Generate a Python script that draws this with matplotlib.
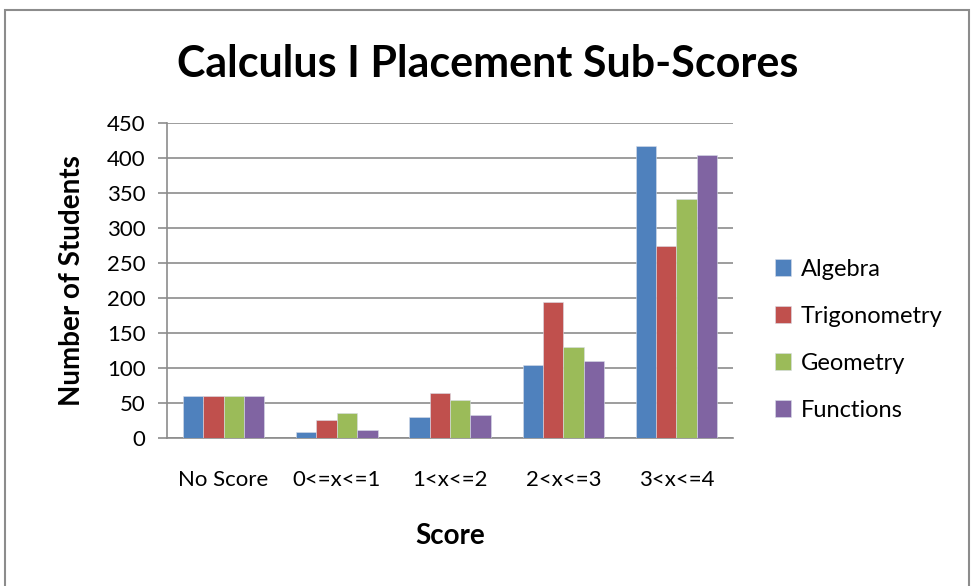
import numpy as np
import matplotlib.pyplot as plt
from matplotlib.patches import Rectangle

# data
categories = ['No Score', '0<=x<=1', '1<x<=2', '2<x<=3', '3<x<=4']
algebra = [60, 8, 30, 104, 417]
trigonometry = [60, 26, 65, 194, 274]
geometry = [60, 36, 54, 130, 342]
functions = [60, 11, 33, 110, 405]
series_names = ['Algebra', 'Trigonometry', 'Geometry', 'Functions']
colors = ['#4F81BD', '#C0504D', '#9BBB59', '#8064A2']

plt.rcParams['font.family'] = ['Lato', 'DejaVu Sans']

fig = plt.figure(figsize=(9.71, 5.86), dpi=100)
ax = fig.add_axes([0.172, 0.2526, 0.583, 0.537])

x = np.arange(len(categories))
w = 0.18
all_series = [algebra, trigonometry, geometry, functions]
for i, vals in enumerate(all_series):
    ax.bar(x + (i - 1.5) * w, vals, w, color=colors[i], label=series_names[i],
           edgecolor='#d8dde8', linewidth=0.4, zorder=3)

ax.set_xlim(-0.5, len(categories) - 0.5)
ax.set_ylim(0, 450)
ax.set_yticks(np.arange(0, 451, 50))
ax.set_xticks(x)
ax.set_xticklabels(categories)
ax.yaxis.grid(True, color='#8c8c8c', linewidth=1.2, zorder=0)
ax.set_axisbelow(True)

for s in ['top', 'right']:
    ax.spines[s].set_visible(False)
ax.spines['left'].set_color('#8c8c8c')
ax.spines['bottom'].set_color('#8c8c8c')
ax.spines['left'].set_linewidth(1.2)
ax.spines['bottom'].set_linewidth(1.2)

ax.tick_params(axis='y', length=6.5, width=1.2, color='#8c8c8c', labelsize=16, pad=9)
ax.tick_params(axis='x', length=0, labelsize=16, pad=23)

ax.set_ylabel('Number of Students', fontsize=20, fontweight='bold', labelpad=16)
ax.set_xlabel('Score', fontsize=20, fontweight='bold', labelpad=24)
fig.suptitle('Calculus I Placement Sub-Scores', fontsize=31, fontweight='bold',
             x=0.502, y=0.925)

ax.legend(loc='center left', bbox_to_anchor=(0.776, 0.42), bbox_transform=fig.transFigure,
          frameon=False, fontsize=17, labelspacing=1.1, handlelength=0.7,
          handleheight=0.7, handletextpad=0.4)

# outer chart border
fig.patches.append(Rectangle((5 / 971, -0.05), 964 / 971, 1 - 10 / 586 + 0.05,
                             transform=fig.transFigure, fill=False,
                             edgecolor='#8c8c8c', linewidth=1.5))

fig.savefig('out.png', dpi=100)
